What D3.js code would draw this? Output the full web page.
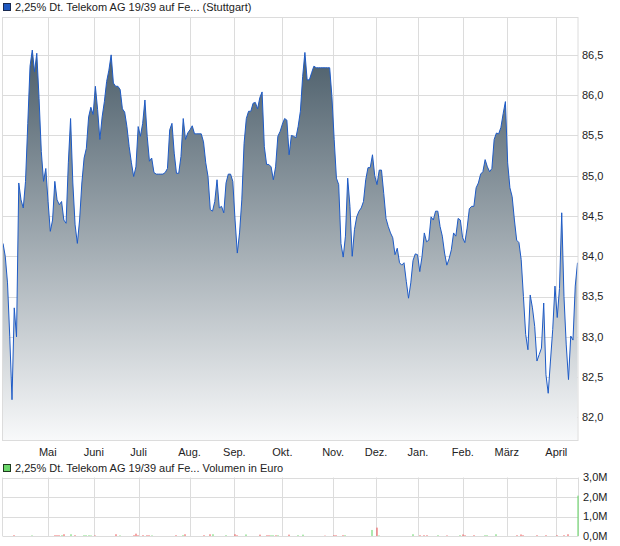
<!DOCTYPE html>
<html>
<head>
<meta charset="utf-8">
<script src="https://cdn.jsdelivr.net/npm/d3@7"></script>
<style>
  html, body { margin: 0; padding: 0; background: #fff; }
  svg { display: block; font-family: "Liberation Sans", Arial, sans-serif; }
</style>
</head>
<body>
<svg id="chart" width="620" height="546"></svg>
<script>
// ---------- DATA ----------
const priceTitle = "2,25% Dt. Telekom AG 19/39 auf Fe... (Stuttgart)";
const volumeTitle = "2,25% Dt. Telekom AG 19/39 auf Fe... Volumen in Euro";

// daily closing prices (trading-day index 0..255)
const prices = [
  84.16, 84.0, 83.67, 83.0, 82.22, 83.36, 83.0, 84.91, 84.7, 84.6,
  84.93, 85.65, 86.36, 86.56, 86.29, 86.52, 85.96, 85.3, 84.93, 85.09,
  84.68, 84.31, 84.45, 84.93, 84.7, 84.64, 84.68, 84.45, 84.41, 85.16,
  85.71, 84.91, 84.39, 84.16, 84.45, 84.91, 85.22, 85.34, 85.73, 85.85,
  85.76, 86.11, 85.82, 85.45, 85.73, 85.92, 86.17, 86.31, 86.5, 86.15,
  86.11, 86.11, 86.07, 85.83, 85.79, 85.61, 85.36, 85.16, 84.99, 85.11,
  85.61, 85.49, 85.65, 85.94, 85.49, 85.18, 85.22, 85.04, 85.02, 85.02,
  85.02, 85.02, 85.04, 85.09, 85.57, 85.65, 85.28, 85.03, 85.03, 85.24,
  85.71, 85.45, 85.53, 85.57, 85.62, 85.52, 85.52, 85.52, 85.52, 85.42,
  85.16, 84.99, 84.58, 84.56, 84.68, 84.95, 84.6, 84.62, 84.54, 84.91,
  85.02, 85.02, 84.93, 84.45, 84.04, 84.29, 84.7, 85.4, 85.71, 85.8,
  85.8, 85.9, 85.91, 85.83, 85.97, 86.04, 85.36, 85.14, 85.14, 85.11,
  84.95, 85.11, 85.49, 85.55, 85.64, 85.71, 85.69, 85.26, 85.5, 85.49,
  85.47, 85.61, 85.8, 86.23, 86.53, 86.19, 86.19, 86.28, 86.36, 86.34,
  86.34, 86.34, 86.34, 86.34, 86.34, 86.34, 85.98, 85.45, 84.97, 84.89,
  84.16, 83.99, 84.25, 84.97, 84.62, 84.0, 84.33, 84.49, 84.56, 84.6,
  84.68, 84.95, 85.1, 85.1, 85.26, 85.0, 84.89, 85.07, 85.07, 84.78,
  84.47, 84.37, 84.29, 84.23, 84.02, 84.1, 83.92, 83.89, 83.92, 83.69,
  83.48, 83.67, 83.95, 84.03, 84.02, 83.81, 84.0, 84.29, 84.18, 84.2,
  84.49, 84.45, 84.56, 84.56, 84.37, 84.25, 84.04, 83.89, 83.97, 84.08,
  84.29, 84.25, 84.47, 84.45, 84.23, 84.17, 84.35, 84.59, 84.62, 84.62,
  84.85, 84.91, 85.02, 85.05, 85.2, 85.11, 85.05, 85.09, 85.45, 85.53,
  85.52, 85.6, 85.77, 85.92, 85.16, 84.85, 84.74, 84.45, 84.2, 84.17,
  83.96, 83.5, 83.03, 82.84, 83.52, 83.36, 83.13, 82.7, 82.78, 82.86,
  83.42, 82.53, 82.3, 82.7, 83.09, 83.63, 83.24, 83.6, 84.54, 83.5,
  82.9, 82.47, 83.01, 82.96, 83.63, 83.92
];

// month labels and their positions on the trading-day index
const monthLabels = ["Mai", "Juni", "Juli", "Aug.", "Sep.", "Okt.", "Nov.", "Dez.", "Jan.", "Feb.", "März", "April"];
const monthTickPos = [19.9, 40.3, 60.2, 82.8, 102.7, 124.0, 146.5, 165.6, 184.2, 204.1, 223.6, 245.6];

const priceTicks = [82.0, 82.5, 83.0, 83.5, 84.0, 84.5, 85.0, 85.5, 86.0, 86.5];
const priceDomain = [81.72, 86.97];

// volume (million euro) – day index, value, direction (1 up/green, -1 down/red)
const volDay = [5, 13, 23, 24, 25, 26, 27, 30, 32, 36, 37, 38, 39, 41, 50, 52, 58, 59, 60, 62,
  64, 65, 66, 77, 80, 81, 89, 92, 93, 99, 103, 104, 108, 114, 117, 118, 119, 120, 121, 122,
  127, 131, 133, 143, 147, 148, 151, 152, 164, 166, 167, 182, 185, 187, 188, 193, 197, 203, 204, 205,
  209, 214, 215, 219, 228, 230, 231, 237, 241, 246, 249, 251, 255];
const volValue = [0.04, 0.03, 0.04, 0.04, 0.04, 0.04, 0.09, 0.09, 0.04, 0.04, 0.04, 0.04, 0.03, 0.03, 0.09, 0.03, 0.04, 0.12, 0.04, 0.04,
  0.04, 0.04, 0.03, 0.04, 0.04, 0.09, 0.04, 0.09, 0.09, 0.04, 0.09, 0.04, 0.08, 0.07, 0.04, 0.04, 0.04, 0.04, 0.04, 0.04,
  0.07, 0.04, 0.07, 0.02, 0.04, 0.04, 0.04, 0.04, 0.31, 0.43, 0.03, 0.09, 0.04, 0.04, 0.04, 0.04, 0.03, 0.04, 0.08, 0.04,
  0.04, 0.04, 0.04, 0.09, 0.04, 0.08, 0.04, 0.04, 0.04, 0.04, 0.04, 0.09, 2.07];
const volDir = [-1, 1, -1, -1, -1, 1, -1, 1, -1, 1, 1, 1, 1, -1, -1, 1, -1, -1, -1, -1,
  -1, -1, 1, -1, 1, -1, -1, -1, 1, 1, -1, -1, 1, -1, -1, -1, 1, 1, -1, 1,
  -1, 1, 1, -1, -1, -1, -1, 1, 1, -1, 1, 1, -1, -1, -1, 1, -1, 1, -1, -1,
  -1, 1, 1, 1, -1, -1, -1, -1, -1, -1, -1, -1, 1];
const volTicks = [0, 1, 2, 3];
const volTickLabels = ["0,0M", "1,0M", "2,0M", "3,0M"];

// ---------- LAYOUT ----------
const svg = d3.select("#chart");
const W = 620;
const plotL = 3, plotR = 578;
const mainTop = 17, mainBot = 440;
const volTop = 477.5, volBot = 536;
const gridColor = "#dcdcdc";
const textColor = "#222";

svg.append("rect").attr("width", W).attr("height", 546).attr("fill", "#fff");

const x = d3.scaleLinear().domain([0, prices.length - 1]).range([plotL, plotR - 0.5]);
const y = d3.scaleLinear().domain(priceDomain).range([mainBot, mainTop]);
const yv = d3.scaleLinear().domain([0, 3]).range([volBot, volTop]);

// gradient
const defs = svg.append("defs");
const grad = defs.append("linearGradient").attr("id", "areaGrad")
  .attr("gradientUnits", "userSpaceOnUse")
  .attr("x1", 0).attr("x2", 0).attr("y1", y(86.5)).attr("y2", mainBot);
grad.append("stop").attr("offset", "0%").attr("stop-color", "#4e606c");
grad.append("stop").attr("offset", "100%").attr("stop-color", "#f8f9fa");

// ---------- MAIN PANEL ----------
const main = svg.append("g");

// horizontal grid
main.append("g").selectAll("line").data(priceTicks).join("line")
  .attr("x1", plotL).attr("x2", plotR)
  .attr("y1", d => Math.round(y(d)) + 0.5).attr("y2", d => Math.round(y(d)) + 0.5)
  .attr("stroke", gridColor).attr("stroke-width", 1);
// vertical grid
main.append("g").selectAll("line").data(monthTickPos).join("line")
  .attr("x1", d => Math.round(x(d)) + 0.5).attr("x2", d => Math.round(x(d)) + 0.5)
  .attr("y1", mainTop).attr("y2", mainBot)
  .attr("stroke", gridColor).attr("stroke-width", 1);

// area + line
const area = d3.area().x((d, i) => x(i)).y0(mainBot).y1(d => y(d)).curve(d3.curveLinear);
const line = d3.line().x((d, i) => x(i)).y(d => y(d)).curve(d3.curveLinear);
main.append("path").datum(prices).attr("d", area).attr("fill", "url(#areaGrad)");
main.append("path").datum(prices).attr("d", line)
  .attr("fill", "none").attr("stroke", "#1e5bc6").attr("stroke-width", 1);

// frame
main.append("rect").attr("x", plotL - 0.5).attr("y", mainTop + 0.5)
  .attr("width", plotR - plotL + 0.5).attr("height", mainBot - mainTop)
  .attr("fill", "none").attr("stroke", gridColor);

// right axis labels
main.append("g").selectAll("text").data(priceTicks).join("text")
  .attr("x", 582).attr("y", d => y(d)).attr("dy", "0.35em")
  .attr("font-size", 11).attr("fill", textColor)
  .text(d => d3.format(".1f")(d).replace(".", ","));

// month labels
main.append("g").selectAll("text").data(monthLabels).join("text")
  .attr("x", (d, i) => x(monthTickPos[i])).attr("y", 456)
  .attr("text-anchor", "middle").attr("font-size", 11).attr("fill", textColor)
  .text(d => d);

// legend
main.append("rect").attr("x", 3.5).attr("y", 3.5).attr("width", 7).attr("height", 7)
  .attr("fill", "#1f58c0").attr("stroke", "#1a2a50");
main.append("text").attr("x", 15).attr("y", 11).attr("font-size", 11).attr("fill", textColor).text(priceTitle);

// ---------- VOLUME PANEL ----------
const vol = svg.append("g");
vol.append("rect").attr("x", 3.5).attr("y", 464.5).attr("width", 7).attr("height", 7)
  .attr("fill", "#6ad66a").attr("stroke", "#1f3a1f");
vol.append("text").attr("x", 15).attr("y", 472).attr("font-size", 11).attr("fill", textColor).text(volumeTitle);

vol.append("g").selectAll("line").data(volTicks).join("line")
  .attr("x1", plotL).attr("x2", plotR)
  .attr("y1", d => Math.round(yv(d)) + 0.5).attr("y2", d => Math.round(yv(d)) + 0.5)
  .attr("stroke", gridColor);
vol.append("g").selectAll("line").data(monthTickPos).join("line")
  .attr("x1", d => Math.round(x(d)) + 0.5).attr("x2", d => Math.round(x(d)) + 0.5)
  .attr("y1", volTop).attr("y2", volBot)
  .attr("stroke", gridColor);
vol.append("line").attr("x1", plotL - 0.5).attr("x2", plotL - 0.5).attr("y1", volTop).attr("y2", volBot + 0.5).attr("stroke", gridColor);
vol.append("line").attr("x1", plotR + 0.5).attr("x2", plotR + 0.5).attr("y1", volTop).attr("y2", volBot + 0.5).attr("stroke", gridColor);

vol.append("g").selectAll("rect").data(volDay).join("rect")
  .attr("x", (d) => Math.round(x(d)) - 0.5)
  .attr("width", 1)
  .attr("y", (d, i) => yv(volValue[i]))
  .attr("height", (d, i) => yv(0) - yv(volValue[i]))
  .attr("fill", (d, i) => volDir[i] > 0 ? "#5fd35f" : "#ec4b4b");

vol.append("g").selectAll("text").data(volTicks).join("text")
  .attr("x", 583).attr("y", d => yv(d)).attr("dy", "0.35em")
  .attr("font-size", 11).attr("fill", textColor)
  .text((d, i) => volTickLabels[i]);
</script>
</body>
</html>
